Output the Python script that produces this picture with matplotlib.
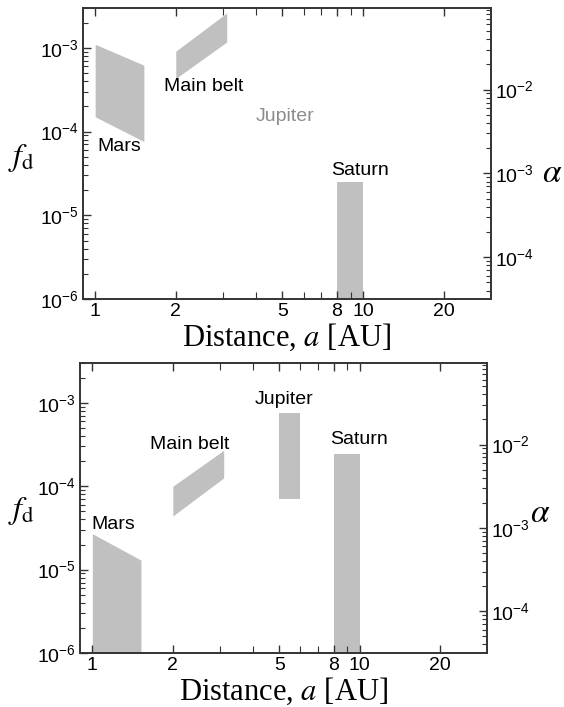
import numpy as np
import matplotlib
matplotlib.use("Agg")
import matplotlib.pyplot as plt
from matplotlib.ticker import LogLocator, NullFormatter

plt.rcParams['font.family'] = ['Liberation Sans', 'DejaVu Sans']
plt.rcParams['mathtext.fontset'] = 'stix'

# x ranges of each region [AU]
mars_a = [1.0, 1.52]
belt_a = [2.0, 3.1]
jupiter_a = [5.0, 6.0]
saturn_a = [8.0, 10.0]

# upper panel, f_d at left / right edge of each region
top_mars_hi = [1.1e-3, 6.2e-4]
top_mars_lo = [1.5e-4, 7.6e-5]
top_belt_hi = [9.1e-4, 2.6e-3]
top_belt_lo = [4.3e-4, 1.17e-3]
top_saturn_hi = [2.5e-5, 2.5e-5]
top_saturn_lo = [1e-7, 1e-7]

# lower panel
bot_mars_hi = [2.7e-5, 1.3e-5]
bot_mars_lo = [1e-7, 1e-7]
bot_belt_hi = [1.0e-4, 2.7e-4]
bot_belt_lo = [4.4e-5, 1.26e-4]
bot_jupiter_hi = [7.6e-4, 7.6e-4]
bot_jupiter_lo = [7.1e-5, 7.1e-5]
bot_saturn_hi = [2.45e-4, 2.45e-4]
bot_saturn_lo = [1e-7, 1e-7]

names = ['Mars', 'Main belt', 'Jupiter', 'Saturn']
top_label_pos = [(1.23, 6.7e-5), (2.54, 3.4e-4), (5.1, 1.5e-4), (9.75, 3.4e-5)]
bot_label_pos = [(1.2, 3.5e-5), (2.32, 3.2e-4), (5.22, 1.1e-3), (9.95, 3.6e-4)]

xticks = [1, 2, 5, 8, 10, 20]
xminor = [3, 4, 6, 7, 9]

# alpha = f_d * 10**1.5
alpha_factor = 10**1.5
ylims = (1e-6, 3e-3)
xlims = (0.9, 30)

fill_col = '#c0c0c0'
edge_col = '#333333'


def style_axes(ax):
    ax.set_xscale('log')
    ax.set_yscale('log')
    ax.set_xlim(*xlims)
    ax.set_ylim(*ylims)
    ax.set_xticks(xticks)
    ax.set_xticklabels([str(t) for t in xticks])
    ax.set_xticks(xminor, minor=True)
    ax.xaxis.set_minor_formatter(NullFormatter())
    ax.yaxis.set_major_locator(LogLocator(base=10, numticks=10))
    ax.yaxis.set_minor_locator(LogLocator(base=10, subs=np.arange(2, 10), numticks=10))
    ax.tick_params(which='both', direction='in', top=True, right=False,
                   labelsize=14, color=edge_col, pad=3)
    ax.tick_params(which='major', length=6, width=1)
    ax.tick_params(which='minor', length=3.5, width=0.8)
    ax.tick_params(axis='x', which='minor', length=5)
    for s in ax.spines.values():
        s.set_color(edge_col)
        s.set_linewidth(1.2)
    ax.set_xlabel('Distance, $a$ [AU]', family='Liberation Serif', fontsize=22, labelpad=1)
    ax.set_ylabel(r'$f_\mathrm{d}$', fontsize=23, rotation=0, va='center', ha='center')

    ax2 = ax.twinx()
    ax2.set_yscale('log')
    ax2.set_ylim(ylims[0] * alpha_factor, ylims[1] * alpha_factor)
    ax2.yaxis.set_major_locator(LogLocator(base=10, numticks=10))
    ax2.yaxis.set_minor_locator(LogLocator(base=10, subs=np.arange(2, 10), numticks=10))
    ax2.tick_params(which='both', direction='in', labelsize=14, color=edge_col, pad=3)
    ax2.tick_params(which='major', length=6, width=1)
    ax2.tick_params(which='minor', length=3.5, width=0.8)
    for s in ax2.spines.values():
        s.set_color(edge_col)
        s.set_linewidth(1.2)
    ax2.set_ylabel(r'$\alpha$', fontsize=24, rotation=0, va='center', ha='center')
    return ax2


def region(ax, a, hi, lo):
    ax.fill_between(a, hi, lo, color=fill_col, linewidth=0)


fig = plt.figure(figsize=(5.64, 7.07), dpi=100)

ax1 = fig.add_axes([0.147, 0.577, 0.723, 0.412])
r1 = style_axes(ax1)
region(ax1, mars_a, top_mars_hi, top_mars_lo)
region(ax1, belt_a, top_belt_hi, top_belt_lo)
region(ax1, saturn_a, top_saturn_hi, top_saturn_lo)
for name, (x, y) in zip(names, top_label_pos):
    col = '#8c8c8c' if name == 'Jupiter' else 'black'
    ax1.text(x, y, name, fontsize=14, ha='center', va='center', color=col)
ax1.yaxis.set_label_coords(-0.15, 0.485)
r1.yaxis.set_label_coords(1.15, 0.43)

ax2 = fig.add_axes([0.142, 0.0764, 0.722, 0.410])
r2 = style_axes(ax2)
region(ax2, mars_a, bot_mars_hi, bot_mars_lo)
region(ax2, belt_a, bot_belt_hi, bot_belt_lo)
region(ax2, jupiter_a, bot_jupiter_hi, bot_jupiter_lo)
region(ax2, saturn_a, bot_saturn_hi, bot_saturn_lo)
for name, (x, y) in zip(names, bot_label_pos):
    ax2.text(x, y, name, fontsize=14, ha='center', va='center')
ax2.yaxis.set_label_coords(-0.145, 0.49)
r2.yaxis.set_label_coords(1.13, 0.48)

fig.savefig('out.png', dpi=100)
